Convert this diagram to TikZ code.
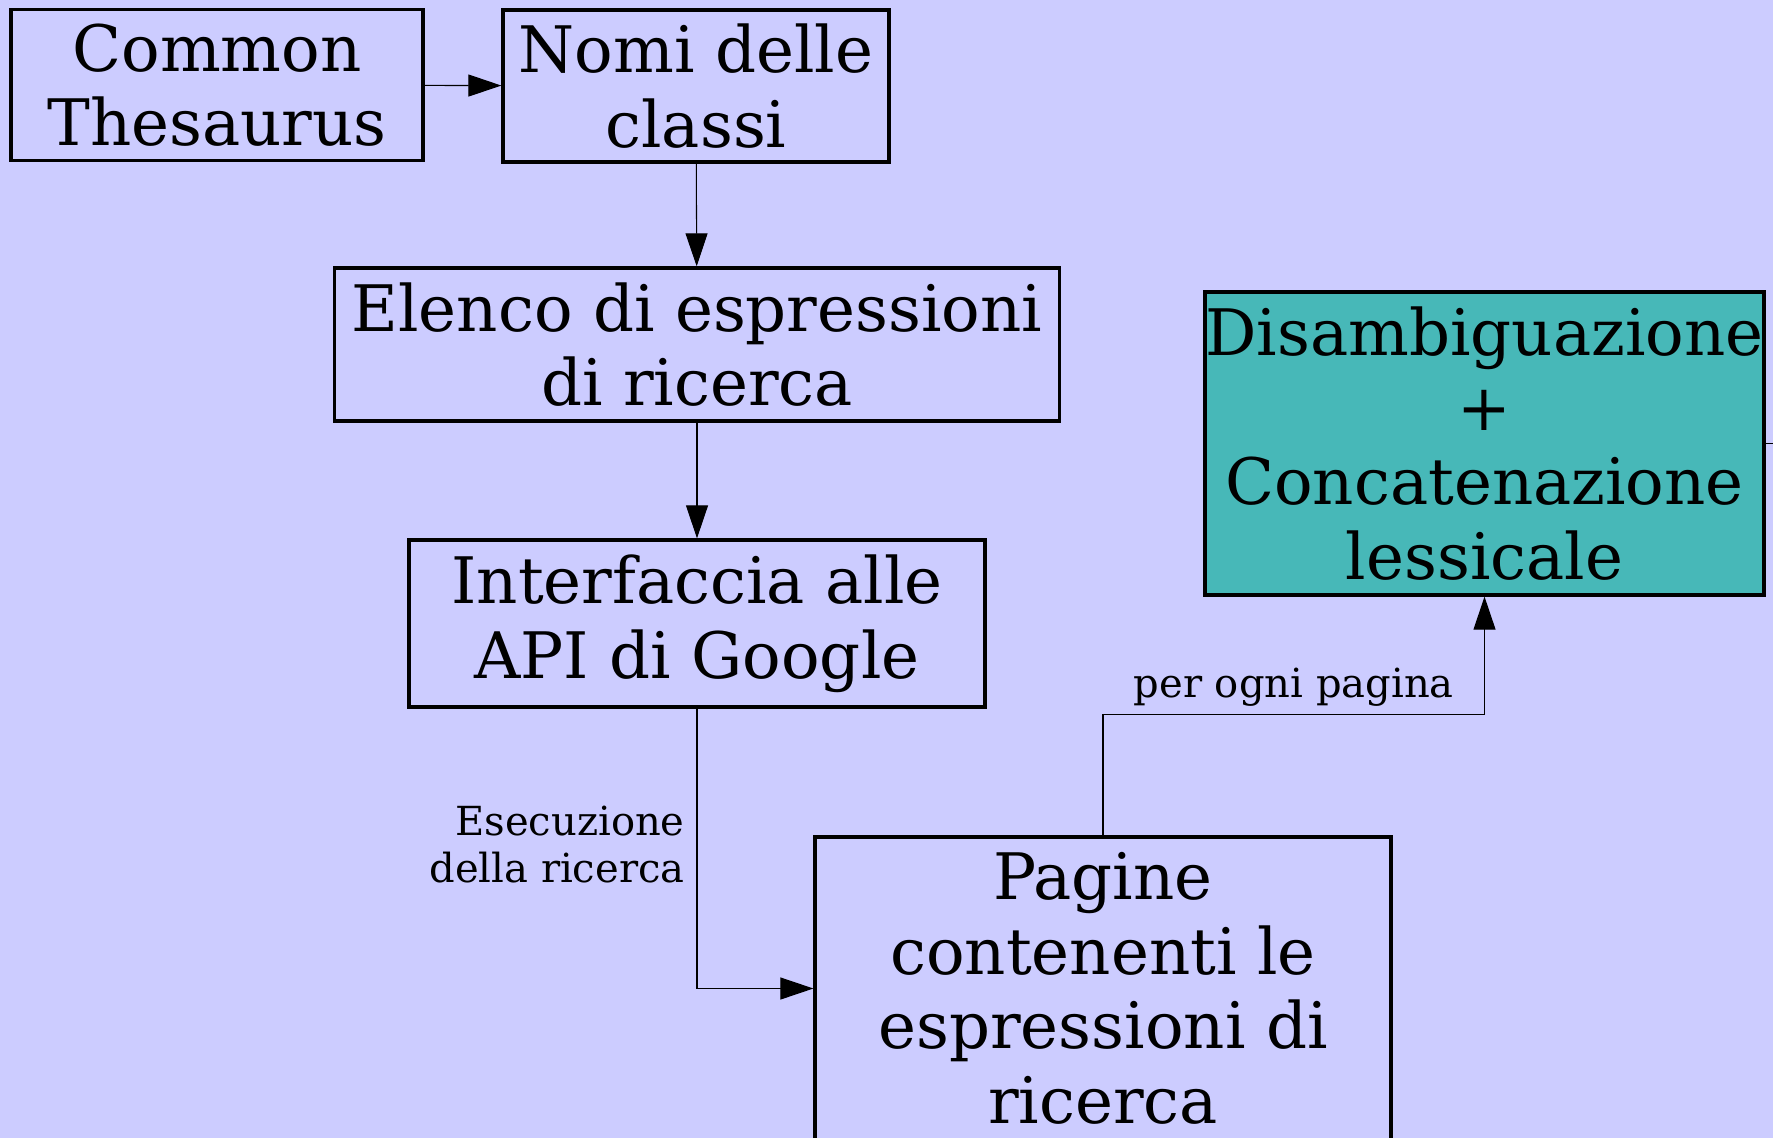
\documentclass[tikz,border=0pt]{standalone}
\usepackage{fontspec}
\setmainfont{DejaVu Serif}
\usepackage{tikz}
\usetikzlibrary{arrows.meta,positioning}
\definecolor{flowLilac}{HTML}{CCCCFF}
\definecolor{flowTeal}{HTML}{47B8B8}
\tikzset{
  box/.style={rectangle, draw=black, line width=1.9pt, fill=flowLilac, align=center, inner sep=0pt, font=\fontsize{36.5}{42.5}\selectfont},
  hilite/.style={box, fill=flowTeal},
  conn/.style={-{Triangle[length=0.66cm,width=0.44cm]}, line width=0.6pt, draw=black},
  note/.style={font=\fontsize{22.8}{27}\selectfont, align=right}
}
\begin{document}
\begin{tikzpicture}[x=0.02cm, y=-0.02cm]
\useasboundingbox (0,0) rectangle (1773,1138);
\fill[flowLilac] (0,0) rectangle (1773,1138);
\node[box, minimum width=8.24cm, minimum height=3.02cm] (thes) at (217,85) {Common\\Thesaurus};
\node[box, minimum width=7.72cm, minimum height=3.04cm] (nomi) at (696,86) {Nomi delle\\classi};
\node[box, minimum width=14.5cm, minimum height=3.06cm] (elenco) at (697,344.5) {Elenco di espressioni\\di ricerca};
\node[box, minimum width=11.52cm, minimum height=3.34cm] (api) at (697,623.5) {Interfaccia alle\\API di Google};
\node[box, minimum width=11.52cm, minimum height=6.06cm] (pagine) at (1103,988.5) {Pagine\\contenenti le\\espressioni di\\ricerca};
\node[hilite, minimum width=11.18cm, minimum height=6.06cm] (disamb) at (1484.5,443.5) {Disambiguazione\\+\\Concatenazione\\lessicale};
\coordinate (rim) at (1773,443.5);
\draw[conn] (thes) -- (nomi);
\draw[conn] (nomi) -- (elenco);
\draw[conn] (elenco) -- (api);
\draw[conn] (api.south) |- node[note, pos=0.25, left, xshift=-0.12cm, yshift=0.08cm] {Esecuzione\\della ricerca} (pagine.west);
\draw[conn] (pagine.north) -- ++(0,-121) -| node[note, pos=0.25, above, yshift=0.04cm] {per ogni pagina} (disamb.south);
\draw[line width=0.6pt] (disamb.east) -- (rim);
\end{tikzpicture}
\end{document}
